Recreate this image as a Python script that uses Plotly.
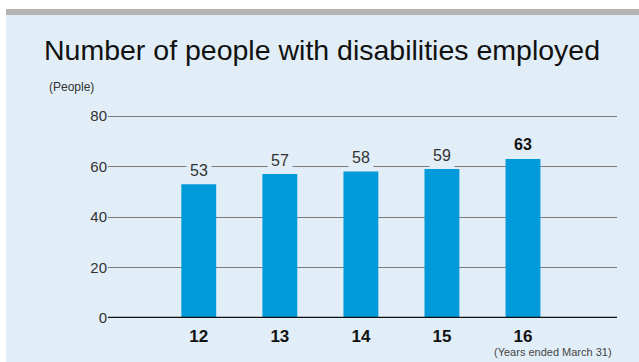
# Number of people with disabilities employed - bar chart
import plotly.graph_objects as go

# data
years = ["12", "13", "14", "15", "16"]
people = [53, 57, 58, 59, 63]
y_ticks = [0, 20, 40, 60, 80]

panel_bg = "#e1eef7"
bar_color = "#0099d9"
font_family = "Liberation Sans, Arial, sans-serif"

x_pos = list(range(len(years)))

fig = go.Figure()
fig.add_trace(go.Bar(x=x_pos, y=people, width=0.43,
                     marker=dict(color=bar_color, line=dict(width=0)),
                     hoverinfo="skip"))

# value labels, with panel-coloured box so the gridline breaks behind them
for i, (x, v) in enumerate(zip(x_pos, people)):
    last = i == len(people) - 1
    fig.add_annotation(x=x, y=v, yshift=14, text="<b>%d</b>" % v if last else str(v),
                       showarrow=False, bgcolor=panel_bg, borderpad=3,
                       font=dict(size=16, color="#111111" if last else "#333333",
                                 family=font_family))

PH = 203  # plot height in px
# background panel and top grey band
fig.add_shape(type="rect", xref="paper", yref="paper", layer="below",
              x0=-102/509, x1=1.1, y0=-0.3, y1=(362-14-44)/PH,
              fillcolor=panel_bg, line=dict(width=0))
fig.add_shape(type="rect", xref="paper", yref="paper", layer="below",
              x0=-102/509, x1=1.1, y0=(362-15-44)/PH, y1=(362-9-44)/PH,
              fillcolor="#b4b4b4", line=dict(width=0))
# zero line
fig.add_shape(type="line", xref="paper", yref="y", x0=0, x1=1, y0=0, y1=0,
              line=dict(color="#111111", width=2.5))

fig.add_annotation(text="Number of people with disabilities employed",
                   xref="paper", yref="paper", x=-66/509, y=(362-50-44)/PH,
                   xanchor="left", yanchor="middle", showarrow=False,
                   font=dict(size=28.5, color="#111111", family=font_family))
fig.add_annotation(text="(People)", xref="paper", yref="paper",
                   x=-61/509, y=(362-87-44)/PH, xanchor="left", yanchor="middle",
                   showarrow=False, font=dict(size=12, color="#333333", family=font_family))
fig.add_annotation(text="(Years ended March 31)", xref="paper", yref="paper",
                   x=1 - 3/509, y=-(352-318)/PH, xanchor="right", yanchor="middle",
                   showarrow=False, font=dict(size=11, color="#444444", family=font_family))

fig.update_layout(
    width=639, height=362,
    margin=dict(l=108, r=22, t=115, b=44),
    paper_bgcolor="white", plot_bgcolor="rgba(0,0,0,0)",
    showlegend=False,
    font=dict(family=font_family),
    xaxis=dict(range=[-1.12, 5.16], tickvals=x_pos, ticktext=["<b>%s</b>" % y for y in years],
               showgrid=False, zeroline=False, showline=False, ticklabelstandoff=6,
               tickfont=dict(size=17, color="#111111"), ticks=""),
    yaxis=dict(range=[0, 80.4], tickvals=y_ticks, showgrid=True,
               gridcolor="#7a7a7a", gridwidth=1.3, zeroline=False, showline=False,
               tickfont=dict(size=15, color="#333333"), ticks=""),
)

fig.write_html("out.html", config={"displayModeBar": False},
               post_script="document.body.style.margin='0';")
